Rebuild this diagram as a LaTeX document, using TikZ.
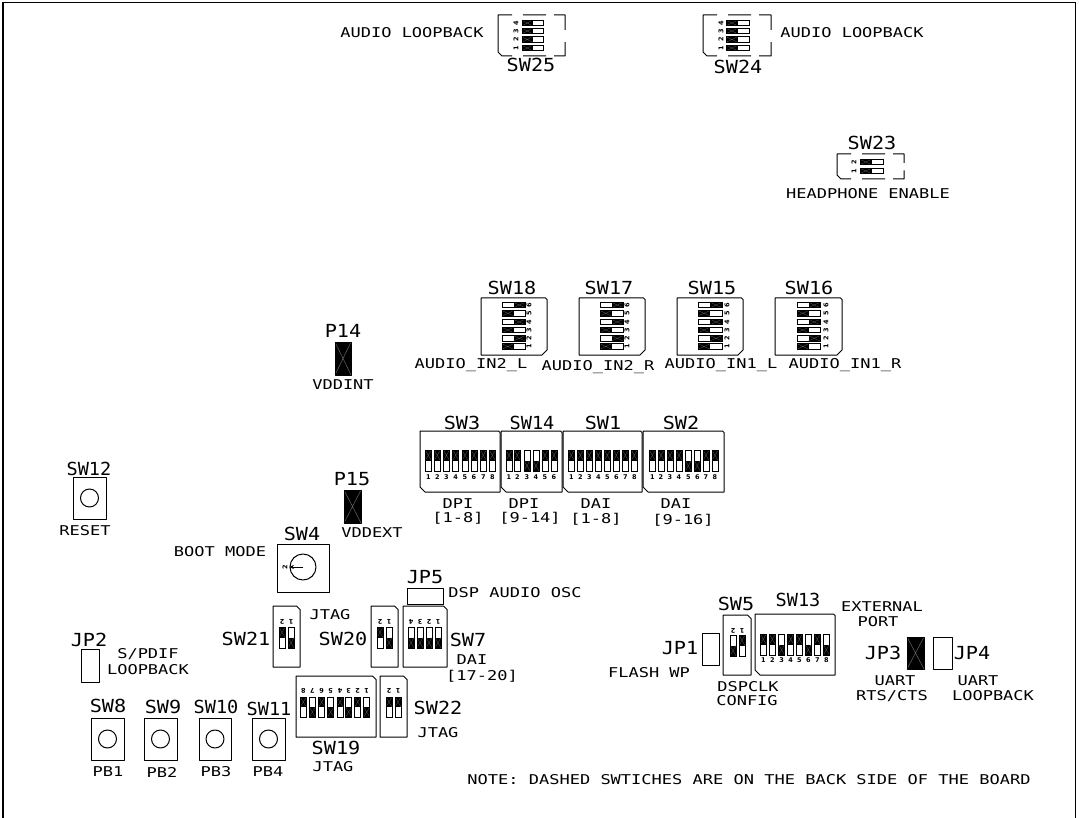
\documentclass[tikz,border=0pt]{standalone}
\usepackage{fontspec}
\usetikzlibrary{arrows.meta}
\newfontfamily\cadfont[FakeStretch=1.26]{DejaVu Sans Mono}
\newfontfamily\cadbigfont[FakeStretch=1.12]{DejaVu Sans Mono}
\newfontfamily\numfont{DejaVu Sans}
\tikzset{
 lab/.style={inner sep=0pt,align=center,font=\cadfont\fontsize{13.5}{14.5}\selectfont},
 big/.style={inner sep=0pt,font=\cadbigfont\fontsize{18}{20}\selectfont},
 nar/.style={big,xscale=.92},
 tinynum/.style={inner sep=0pt,font=\numfont\bfseries\fontsize{6.5}{6.5}\selectfont},
 outline/.style={draw=black,line width=1pt,line join=round},
 swrect/.style={draw=black,line width=.8pt},
 hatch/.style={draw=black!60,line width=.25pt}
}
% vertical switch: cx, ytop, ybot, side
\newcommand\vsw[4]{%
 \if T#4\relax
  \fill[black] (#1-3,#2) rectangle (#1+3,{(#2+#3)/2});
  \draw[hatch] (#1-3,#2) -- (#1+3,{(#2+#3)/2}) (#1+3,#2) -- (#1-3,{(#2+#3)/2});
 \else
  \fill[black] (#1-3,{(#2+#3)/2}) rectangle (#1+3,#3);
  \draw[hatch] (#1-3,{(#2+#3)/2}) -- (#1+3,#3) (#1+3,{(#2+#3)/2}) -- (#1-3,#3);
 \fi
 \draw[swrect] (#1-3,#2) rectangle (#1+3,#3);
}
% horizontal switch: cy, xleft, xright, side
\newcommand\hsw[4]{%
 \if L#4\relax
  \fill[black] (#2,#1-2.7) rectangle ({(#2+#3)/2},#1+2.7);
  \draw[hatch] (#2,#1-2.7) -- ({(#2+#3)/2},#1+2.7) (#2,#1+2.7) -- ({(#2+#3)/2},#1-2.7);
 \else
  \fill[black] ({(#2+#3)/2},#1-2.7) rectangle (#3,#1+2.7);
  \draw[hatch] ({(#2+#3)/2},#1-2.7) -- (#3,#1+2.7) ({(#2+#3)/2},#1+2.7) -- (#3,#1-2.7);
 \fi
 \draw[swrect] (#2,#1-2.7) rectangle (#3,#1+2.7);
}
% prefix, list cx/side/num, ytop, ybot, numy, rotation
\newcommand\vbank[6]{\foreach \cx/\sd/\nm in {#2}{%
 \vsw{\cx}{#3}{#4}{\sd}
 \node[tinynum,rotate=#6] (#1-\nm) at (\cx,#5) {\nm};}}
% prefix, list cy/side/num, xleft, xright, numx
\newcommand\hbank[5]{\foreach \cy/\sd/\nm in {#2}{%
 \hsw{\cy}{#3}{#4}{\sd}
 \node[tinynum,rotate=90] (#1-\nm) at (#5,\cy) {\nm};}}
% box with large chamfer bottom-right
\newcommand\boxBR[4]{\draw[outline] (#1,#2) -- (#3-1.5,#2) -- (#3,#2+1.5) -- (#3,#4-5) -- (#3-5,#4) -- (#1,#4) -- cycle;}
% box with large chamfer bottom-left
\newcommand\boxBL[4]{\draw[outline] (#1,#2) -- (#3-1.5,#2) -- (#3,#2+1.5) -- (#3,#4) -- (#1+5,#4) -- (#1,#4-5) -- cycle;}
% box with chamfer top-right
\newcommand\boxTR[4]{\draw[outline] (#1,#2) -- (#3-3.5,#2) -- (#3,#2+3.5) -- (#3,#4) -- (#1,#4) -- cycle;}
% dashed back-side switch outline: x0,y0,x1,y1
\newcommand\backbox[4]{\draw[outline]
 (#1+14,#2) -- (#1,#2) -- (#1,#4-4) -- (#1+4,#4) -- (#1+14,#4)
 (#1+25,#2) -- (#1+48,#2) (#1+25,#4) -- (#1+48,#4)
 (#1+56,#2) -- (#3,#2) -- (#3,{#2+(#4-#2)*.36})
 (#3,{#2+(#4-#2)*.66}) -- (#3,#4) -- (#1+56,#4);}
% push button: x0,y0,x1,y1,r
\newcommand\pbtn[5]{\draw[outline] (#1,#2) rectangle (#3,#4);
 \draw[outline] ({(#1+#3)/2},{(#2+#4)/2}) circle[radius=#5pt];}
% jumper
\newcommand\jopen[4]{\draw[outline] (#1,#2) rectangle (#3,#4);}
\newcommand\jshut[4]{\fill[black] (#1,#2) rectangle (#3,#4);
 \draw[hatch,line width=.5pt] (#1,#2) -- (#3,#4) (#3,#2) -- (#1,#4);
 \draw[outline] (#1,#2) rectangle (#3,#4);}
\begin{document}
\begin{tikzpicture}[x=1pt,y=-1pt]
\useasboundingbox (0,0) rectangle (1079,818);
\fill[white] (0,0) rectangle (1079,818);
% frame
\draw[black,line width=1.6pt] (3,818) -- (3,2.5) -- (1075.5,2.5) -- (1075.5,818);

% SW25, SW24, SW23
\backbox{498}{15}{565}{56}
\hbank{a}{23/L/4,31/L/3,39.5/L/2,48/L/1}{522}{543}{516}
\backbox{703}{15}{771}{56}
\hbank{b}{23/L/4,31/L/3,39.5/L/2,48/L/1}{726}{749}{721}
\backbox{837}{154}{904}{179}
\hbank{c}{162/L/2,171/L/1}{860}{883}{854}
\node[lab] (t1) at (412,33) {AUDIO LOOPBACK};
\node[lab] (t2) at (852,33) {AUDIO LOOPBACK};
\node[big] (t3) at (531,65) {SW25};
\node[big] (t4) at (738,67) {SW24};
\node[big] (t5) at (872,143) {SW23};
\node[lab] (t6) at (868,194) {HEADPHONE ENABLE};

% audio in
\boxBR{481}{298}{547}{355}
\hbank{d}{305/R/6,313.3/L/5,322/R/4,330/L/3,338.3/R/2,346.5/L/1}{502}{525}{529}
\boxBR{579}{298}{645}{355}
\hbank{e}{305/R/6,313.3/L/5,322/R/4,330/L/3,338.3/R/2,346.5/L/1}{600}{623}{627}
\boxBR{677}{298}{743}{355}
\hbank{f}{305/R/6,313.3/L/5,322/R/4,330/L/3,338.3/R/2,346.5/L/1}{698}{722}{727}
\boxBR{775}{298}{842}{355}
\hbank{g}{305/R/6,313.3/L/5,322/R/4,330/L/3,338.3/R/2,346.5/L/1}{797}{820}{826}
\node[big] (t7) at (512,288) {SW18};
\node[big] (t8) at (609,288) {SW17};
\node[big] (t9) at (712,288) {SW15};
\node[big] (t10) at (809,288) {SW16};
\node[lab] (t11) at (471,365) {AUDIO\_IN2\_L};
\node[lab] (t12) at (598,367) {AUDIO\_IN2\_R};
\node[lab] (t13) at (721,365) {AUDIO\_IN1\_L};
\node[lab] (t14) at (845,365) {AUDIO\_IN1\_R};

% P14, P15
\jshut{335}{342}{351}{375}
\jshut{344}{490}{361}{523}
\node[big] (t15) at (343,331) {P14};
\node[lab] (t16) at (343,385) {VDDINT};
\node[big] (t17) at (352,479) {P15};
\node[lab] (t18) at (372,533) {VDDEXT};

% DPI/DAI row
\boxBL{420}{431}{500}{492}
\vbank{h}{428.3/T/1,437.3/T/2,446.5/T/3,455.7/T/4,465/T/5,474/T/6,483.3/T/7,492.3/T/8}{450}{471}{477}{0}
\boxBL{501}{431}{562}{492}
\vbank{i}{509/T/1,517.3/T/2,527/B/3,536/B/4,545/T/5,554/T/6}{450}{471}{477}{0}
\boxBL{563}{431}{642}{492}
\vbank{j}{571.3/T/1,580.3/T/2,589.3/T/3,598.3/T/4,607.3/T/5,616.3/T/6,625.3/T/7,634.3/T/8}{450}{471}{477}{0}
\boxBL{643}{431}{724}{492}
\vbank{k}{652.3/T/1,661/T/2,670/T/3,679/T/4,688.3/B/5,697.3/B/6,706/T/7,715/T/8}{450}{471}{477}{0}
\node[big] (t19) at (462,423) {SW3};
\node[nar] (t20) at (532,423) {SW14};
\node[big] (t21) at (603,423) {SW1};
\node[big] (t22) at (681,423) {SW2};
\node[lab] (t23) at (458,504) {DPI};
\node[lab] (t24) at (458,518) {[1-8]};
\node[lab] (t25) at (524,504) {DPI};
\node[lab] (t26) at (530,518) {[9-14]};
\node[lab] (t27) at (596,504) {DAI};
\node[lab] (t28) at (596,519) {[1-8]};
\node[lab] (t29) at (676,504) {DAI};
\node[lab] (t30) at (683,520) {[9-16]};

% reset, boot
\pbtn{73}{477}{106}{519}{9}
\node[nar] (t31) at (89,469) {SW12};
\node[lab] (t32) at (85,531) {RESET};
\draw[outline] (277,544) rectangle (329,592);
\draw[outline] (303,567) circle[radius=13pt];
\draw[line width=.8pt,-{Stealth[length=5pt,width=4pt]}] (303,567) -- (289,567);
\node[tinynum,rotate=90] (t33) at (285,567) {2};
\node[big] (t34) at (302,534) {SW4};
\node[lab] (t35) at (220,552) {BOOT MODE};

% JP5
\jopen{407}{588}{443}{604}
\node[big] (t36) at (425,577) {JP5};
\node[lab] (t37) at (515,593) {DSP AUDIO OSC};

% SW21, SW20, SW7
\boxTR{273}{606}{300}{667}
\vbank{l}{282/T/2,291/B/1}{627}{648}{622}{180}
\node[big] (t38) at (246,639) {SW21};
\node[lab] (t39) at (330,615) {JTAG};
\boxTR{371}{606}{398}{667}
\vbank{m}{380/T/2,389/B/1}{627}{648}{622}{180}
\node[big] (t40) at (343,639) {SW20};
\boxTR{403}{606}{447}{667}
\vbank{n}{411/B/4,420/B/3,429/B/2,438/B/1}{627}{648}{622}{180}
\node[big] (t41) at (468,640) {SW7};
\node[lab] (t42) at (472,660) {DAI};
\node[lab] (t43) at (482,676) {[17-20]};

% SW19, SW22
\boxTR{296}{676}{376}{737}
\vbank{o}{303.3/T/8,312.3/B/7,321.7/T/6,330.7/B/5,340/T/4,348.7/B/3,357.7/T/2,366.7/B/1}{697}{717}{691}{180}
\node[big] (t44) at (336,748) {SW19};
\node[lab] (t45) at (333,767) {JTAG};
\boxTR{380}{676}{407}{737}
\vbank{p}{389/T/2,398/T/1}{697}{717}{691}{180}
\node[big] (t46) at (438,708) {SW22};
\node[lab] (t47) at (438,733) {JTAG};

% JP2
\jopen{81}{649}{99}{682}
\node[big] (t48) at (89,640) {JP2};
\node[lab] (t49) at (148,654) {S/PDIF};
\node[lab] (t50) at (148,670) {LOOPBACK};

% push buttons
\pbtn{91}{718}{124}{760}{9}
\pbtn{144}{718}{177}{760}{9}
\pbtn{199}{718}{231}{760}{9}
\pbtn{252}{718}{285}{760}{9}
\node[big] (t51) at (108,706) {SW8};
\node[big] (t52) at (163,707) {SW9};
\node[nar] (t53) at (216,707) {SW10};
\node[nar] (t54) at (269,709) {SW11};
\node[lab] (t55) at (108,772) {PB1};
\node[lab] (t56) at (162,772) {PB2};
\node[lab] (t57) at (216,772) {PB3};
\node[lab] (t58) at (268,772) {PB4};

% right group
\jopen{702}{633}{719}{665}
\node[big] (t59) at (680,648) {JP1};
\node[lab] (t60) at (649,673) {FLASH WP};
\boxTR{723}{615}{751}{675}
\vbank{q}{733/B/2,742/T/1}{635}{656}{631}{180}
\node[big] (t61) at (736,604) {SW5};
\node[lab] (t62) at (748,687) {DSPCLK};
\node[lab] (t63) at (747,701) {CONFIG};
\boxBL{755}{614}{835}{675}
\vbank{r}{763.3/T/1,772.3/T/2,781.7/B/3,790.7/T/4,799.3/T/5,808.3/B/6,817.3/T/7,826.3/B/8}{634}{655}{660}{0}
\node[nar] (t64) at (798,600) {SW13};
\node[lab] (t65) at (882,607) {EXTERNAL};
\node[lab] (t66) at (878,622) {PORT};
\jshut{907}{637}{924}{669}
\jopen{933}{637}{952}{669}
\node[big] (t67) at (883,653) {JP3};
\node[big] (t68) at (972,653) {JP4};
\node[lab] (t69) at (895,681) {UART};
\node[lab] (t70) at (892,696) {RTS/CTS};
\node[lab] (t71) at (978,681) {UART};
\node[lab] (t72) at (993,696) {LOOPBACK};
\node[lab] (t73) at (749,780) {NOTE: DASHED SWTICHES ARE ON THE BACK SIDE OF THE BOARD};
\end{tikzpicture}
\end{document}
